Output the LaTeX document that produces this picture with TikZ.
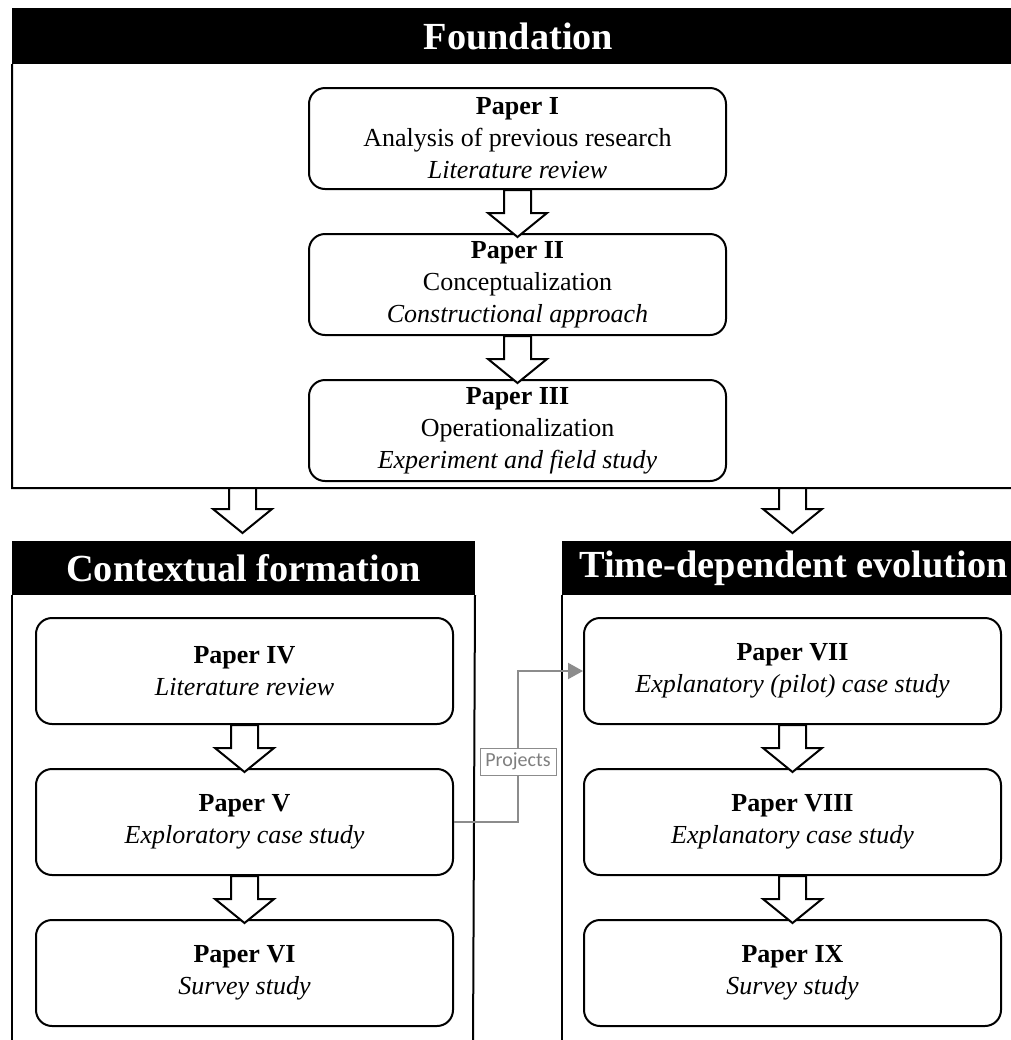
\documentclass[tikz,border=0pt]{standalone}
\usepackage{fontspec}
\setmainfont{Liberation Serif}
\newfontfamily\labelfont{Carlito}
\usetikzlibrary{arrows.meta,calc}
\definecolor{linkgray}{HTML}{8C8C8C}
\definecolor{labelgray}{HTML}{7F7F7F}
% hollow block arrow from the bottom of box #1 to the top of box #2
\newcommand\blockbetween[2]{%
  \draw[blockarrow] ($(#1.south)+(-13.5,0)$) -- ($(#1.south)+(13.5,0)$)
    -- ($(#2.north)+(13.5,-20)$) -- ($(#2.north)+(29.5,-20)$)
    -- ($(#2.north)+(0,4)$)
    -- ($(#2.north)+(-29.5,-20)$) -- ($(#2.north)+(-13.5,-20)$) -- cycle;}
% hollow block arrow of fixed size hanging below a point
\newcommand\blockdown[1]{%
  \draw[blockarrow] (#1) ++(-13.5,0) -- ++(27,0) -- ++(0,21) -- ++(16,0)
    -- ++(-29.5,24) -- ++(-29.5,-24) -- ++(16,0) -- cycle;}
\begin{document}
\begin{tikzpicture}[x=0.75pt,y=-0.75pt,
  frameline/.style={draw=black, line width=1.5pt},
  header/.style={draw=black, line width=1.5pt, fill=black, text=white,
    font=\fontsize{28.75}{32}\selectfont\bfseries, inner sep=0pt,
    anchor=north west, minimum height=#1},
  header/.default=40.5pt,
  paper/.style={draw=black, line width=1.5pt, rounded corners=12pt, fill=white,
    align=center, inner sep=0pt, minimum width=312.75pt, minimum height=#1,
    anchor=north, font=\fontsize{19.5}{24}\selectfont},
  paper/.default=75.75pt,
  blockarrow/.style={draw=black, fill=white, line width=1.5pt, line join=miter},
  link/.style={draw=linkgray, line width=1.6pt},
  tag/.style={draw=linkgray, line width=0.6pt, fill=white, text=labelgray,
    font=\labelfont\fontsize{15}{18}\selectfont, inner sep=0pt,
    minimum width=57pt, minimum height=20.25pt}
]
\useasboundingbox (0,0) rectangle (1011,1040);
\clip (0,0) rectangle (1011,1040);

% ---- Foundation ----
\node[header, minimum width=758.25pt] (fndh) at (12,8) {Foundation};
\draw[frameline] (fndh.south west) -- (12,488) -- (1023,488) -- (fndh.south east);
\coordinate (fndL) at (242.5,488);
\coordinate (fndR) at (792.5,488);

\node[paper] (p1) at (517.5,87)
  {\textbf{Paper I}\\Analysis of previous research\\\textit{Literature review}};
\node[paper] (p2) at (517.5,233)
  {\textbf{Paper II}\\Conceptualization\\\textit{Constructional approach}};
\node[paper] (p3) at (517.5,379)
  {\textbf{Paper III}\\Operationalization\\\textit{Experiment and field study}};
\blockbetween{p1}{p2}
\blockbetween{p2}{p3}

% ---- Contextual formation ----
\node[header=39pt, minimum width=345.75pt] (ctxh) at (12,541) {Contextual formation};
\draw[frameline] (ctxh.south west) -- (12,1050);
\draw[frameline] (ctxh.south east) -- (473,1050);

\node[paper=79.5pt] (p4) at (244.5,617) {\textbf{Paper IV}\\\textit{Literature review}};
\node[paper=79.5pt] (p5) at (244.5,768) {\textbf{Paper V}\\\textit{Exploratory case study}};
\node[paper=79.5pt] (p6) at (244.5,919) {\textbf{Paper VI}\\\textit{Survey study}};
\blockbetween{p4}{p5}
\blockbetween{p5}{p6}

% ---- Time-dependent evolution ----
\node[header=39pt, minimum width=345.75pt] (tdeh) at (562,541) {Time-dependent evolution};
\draw[frameline] (tdeh.south west) -- (562,1050);
\draw[frameline] (tdeh.south east) -- (1023,1050);

\node[paper=79.5pt] (p7) at (792.5,617) {\textbf{Paper VII}\\\textit{Explanatory (pilot) case study}};
\node[paper=79.5pt] (p8) at (792.5,768) {\textbf{Paper VIII}\\\textit{Explanatory case study}};
\node[paper=79.5pt] (p9) at (792.5,919) {\textbf{Paper IX}\\\textit{Survey study}};
\blockbetween{p7}{p8}
\blockbetween{p8}{p9}

% ---- Foundation feeds both streams ----
\blockdown{fndL}
\blockdown{fndR}

% ---- Projects link ----
\node[tag] (proj) at (518,761.5) {Projects};
\draw[link] (p5.east) -| (proj.south);
\draw[link, -{Triangle[length=11.25pt, width=12pt]}] (proj.north) |- (p7.west);
\end{tikzpicture}
\end{document}
